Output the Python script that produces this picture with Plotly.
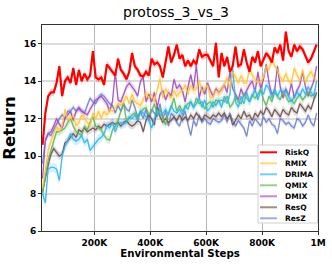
import plotly.graph_objects as go

steps = [15000 + 10000 * i for i in range(99)]

riskq = [10.6, 12.3, 13.2, 13.4, 13.4, 13.9, 14.8, 13.2, 14.0, 14.2, 13.9, 14.7, 13.8, 14.6, 14.0, 14.4, 14.1, 14.3, 15.6, 14.2,
         14.1, 14.2, 13.8, 14.9, 14.7, 14.5, 14.3, 15.2, 14.6, 14.4, 14.1, 14.5, 15.5, 14.8, 14.6, 14.3, 14.25, 14.5, 14.3, 15.2,
         14.9, 15.0, 14.8, 14.2, 15.0, 15.85, 15.0, 15.4, 15.95, 15.2, 15.4, 14.8, 15.1, 14.8, 15.1, 14.9, 15.7, 15.3, 15.4, 15.4,
         15.1, 14.8, 16.05, 14.2, 15.5, 14.8, 15.3, 14.5, 14.8, 15.85, 14.8, 14.9, 15.7, 15.0, 14.5, 15.3, 15.0, 15.6, 14.8, 15.2,
         15.5, 15.3, 15.0, 15.8, 15.5, 15.95, 15.1, 16.65, 15.6, 15.3, 15.95, 15.6, 15.85, 15.7, 15.3, 15.0, 15.2, 15.6, 15.95]

rmix = [8.3, 9.3, 10.3, 10.8, 11.2, 11.6, 11.3, 11.6, 12.5, 11.9, 12.0, 12.2, 11.6, 11.8, 12.2, 12.0, 11.8, 11.6, 12.3, 12.0,
        12.4, 12.0, 12.4, 12.2, 12.5, 12.4, 12.6, 12.8, 12.7, 12.9, 13.2, 12.8, 13.3, 12.9, 12.8, 12.7, 13.0, 13.4, 13.1, 13.3,
        12.9, 13.6, 14.15, 13.1, 13.6, 13.3, 13.1, 13.5, 13.2, 13.4, 13.5, 13.8, 13.3, 13.8, 13.5, 13.6, 14.05, 13.4, 13.6, 13.8,
        13.1, 13.2, 13.5, 13.4, 13.5, 13.8, 14.2, 13.6, 14.5, 14.2, 13.9, 14.3, 13.9, 13.9, 14.7, 14.3, 14.1, 13.9, 14.0, 14.2,
        14.8, 14.6, 15.3, 14.8, 14.6, 14.2, 14.0, 14.4, 14.0, 13.9, 14.7, 14.3, 14.0, 14.6, 13.9, 14.3, 14.5, 14.2, 14.1]

drima = [8.0, 7.5, 9.3, 9.4, 9.4, 9.3, 8.7, 10.0, 10.5, 10.9, 11.2, 10.9, 10.8, 10.9, 11.1, 10.7, 10.9, 10.3, 10.5, 10.7,
         10.9, 11.0, 11.2, 11.65, 11.5, 11.8, 11.3, 11.7, 11.8, 11.7, 11.8, 12.1, 12.0, 12.2, 11.9, 12.4, 12.3, 12.1, 11.9, 11.5,
         12.0, 12.5, 12.2, 12.3, 12.5, 12.2, 12.7, 12.4, 12.3, 12.5, 12.2, 12.7, 12.5, 12.9, 12.6, 12.8, 13.1, 12.6, 13.0, 12.4,
         12.6, 12.9, 12.7, 13.0, 12.6, 13.2, 12.8, 13.3, 14.7, 12.9, 12.6, 13.2, 12.8, 13.4, 12.9, 13.2, 13.6, 13.0, 13.5, 13.3,
         13.8, 13.6, 13.1, 13.6, 13.2, 13.5, 13.4, 13.5, 13.2, 12.9, 13.2, 13.4, 13.2, 13.6, 13.3, 13.7, 13.4, 13.2, 14.0]

qmix = [8.0, 9.0, 9.8, 10.3, 10.8, 11.3, 11.3, 11.4, 11.5, 11.8, 12.0, 11.6, 11.3, 11.2, 11.1, 11.6, 11.4, 11.8, 12.1, 11.6,
        11.5, 11.4, 11.1, 10.9, 10.85, 11.4, 11.6, 11.9, 12.4, 12.8, 11.9, 12.0, 12.2, 12.3, 12.0, 12.3, 12.5, 12.6, 12.2, 12.4,
        12.8, 12.2, 12.5, 12.1, 11.65, 12.3, 12.6, 13.1, 12.4, 12.7, 12.4, 12.6, 12.8, 12.9, 12.6, 13.1, 12.8, 12.9, 12.5, 12.8,
        12.9, 12.6, 13.0, 12.9, 13.0, 12.9, 13.2, 12.6, 12.8, 13.2, 12.9, 12.8, 13.3, 13.1, 12.9, 13.3, 13.1, 13.3, 13.6, 13.0,
        12.7, 13.2, 12.9, 13.4, 13.2, 13.0, 13.5, 13.2, 12.9, 13.0, 12.8, 13.1, 13.3, 13.0, 13.2, 13.4, 13.2, 13.3, 13.3]

dmix = [8.8, 10.8, 11.2, 11.3, 11.6, 12.0, 11.7, 11.5, 12.0, 12.2, 12.4, 11.9, 12.4, 12.6, 12.4, 12.3, 12.2, 12.5, 12.75, 13.0,
        13.1, 13.2, 13.0, 12.8, 12.4, 12.9, 14.5, 13.0, 12.9, 13.3, 13.7, 13.9, 13.7, 13.5, 13.2, 14.0, 14.2, 12.9, 13.3, 12.9,
        13.4, 12.6, 13.3, 13.5, 13.0, 13.4, 13.2, 14.1, 13.6, 13.8, 13.5, 12.9, 13.7, 14.35, 13.6, 14.9, 13.1, 13.7, 13.3, 13.9,
        13.5, 13.2, 13.6, 13.4, 13.55, 13.8, 13.4, 14.5, 13.6, 13.3, 13.0, 13.6, 13.2, 13.5, 13.8, 14.0, 13.4, 14.5, 13.6, 14.1,
        14.9, 13.9, 13.3, 13.5, 14.8, 13.7, 13.1, 13.6, 13.2, 13.9, 13.1, 13.5, 13.8, 14.5, 13.7, 13.2, 13.6, 14.0, 14.8]

resq = [8.1, 8.9, 9.5, 10.1, 10.4, 10.2, 10.0, 10.1, 10.7, 10.8, 11.0, 11.2, 11.0, 11.4, 11.3, 11.5, 11.3, 11.4, 11.5, 11.4,
        11.6, 11.5, 11.7, 11.6, 11.7, 11.8, 11.7, 11.8, 11.6, 11.8, 11.9, 11.7, 11.6, 11.7, 11.9, 11.8, 11.3, 11.9, 12.2, 12.0,
        11.65, 12.65, 12.1, 11.8, 12.0, 11.8, 11.9, 12.1, 11.9, 12.2, 11.9, 12.1, 11.9, 12.2, 12.0, 12.3, 12.1, 11.9, 12.2, 12.1,
        12.0, 12.2, 12.1, 12.3, 12.1, 12.3, 12.0, 12.2, 11.65, 11.9, 12.2, 12.0, 12.4, 12.1, 12.2, 11.9, 12.3, 12.1, 12.4, 12.2,
        12.6, 12.4, 12.1, 12.5, 12.3, 12.1, 12.5, 12.3, 12.2, 12.6, 12.4, 12.3, 12.8, 12.6, 12.4, 12.7, 12.5, 13.0, 13.4]

resz = [9.6, 10.9, 11.2, 11.1, 11.4, 11.7, 12.0, 12.2, 12.0, 12.4, 12.4, 12.6, 12.4, 12.5, 12.4, 12.3, 12.7, 13.1, 12.9, 12.8,
        13.1, 13.3, 13.2, 13.0, 12.8, 12.7, 12.3, 12.7, 12.4, 12.8, 12.5, 12.4, 13.0, 12.6, 12.1, 12.4, 12.0, 12.5, 11.9, 12.5,
        12.3, 12.1, 12.8, 12.0, 12.4, 11.6, 12.3, 12.1, 11.8, 11.6, 12.1, 12.4, 11.7, 11.1, 11.9, 11.6, 12.2, 11.8, 12.0, 11.8,
        11.7, 12.0, 11.9, 11.8, 11.9, 12.2, 11.8, 12.3, 11.9, 11.6, 11.9, 11.7, 11.5, 11.05, 11.9, 11.6, 12.0, 11.8, 11.6, 12.1,
        11.8, 12.0, 11.7, 11.6, 11.2, 12.0, 11.9, 11.7, 11.8, 11.6, 11.5, 12.0, 11.9, 11.6, 11.8, 12.2, 11.8, 11.6, 12.3]

names = ["RiskQ", "RMIX", "DRIMA", "QMIX", "DMIX", "ResQ", "ResZ"]
series = [riskq, rmix, drima, qmix, dmix, resq, resz]
spread = [0.2, 0.25, 0.25, 0.2, 0.2, 0.2, 0.15]
colors = ["#ff0000", "#ffc53a", "#2bb5f3", "#5cb85c", "#a24cbf", "#6e5050", "#6f80cf"]
fills = ["rgba(255,0,0,0.2)", "rgba(255,197,58,0.25)", "rgba(43,181,243,0.2)", "rgba(92,184,92,0.2)",
         "rgba(162,76,191,0.2)", "rgba(110,80,80,0.2)", "rgba(111,128,207,0.2)"]
widths = [2.2, 1.3, 1.3, 1.3, 1.3, 1.3, 1.3]

for n in series:
    assert len(n) == len(steps), len(n)

fig = go.Figure()
order = list(range(len(names)))[::-1]
for k in order:
    ys = series[k]
    s = spread[k]
    fig.add_trace(go.Scatter(x=steps, y=[v + s for v in ys], mode="lines", line=dict(width=0),
                             showlegend=False, hoverinfo="skip"))
    fig.add_trace(go.Scatter(x=steps, y=[v - s for v in ys], mode="lines", line=dict(width=0),
                             fill="tonexty", fillcolor=fills[k], showlegend=False, hoverinfo="skip"))
for k in order:
    fig.add_trace(go.Scatter(x=steps, y=series[k], mode="lines", name=names[k],
                             line=dict(color=colors[k], width=widths[k]),
                             opacity=1.0 if k == 0 else 0.9, showlegend=False))

# plot area in pixels (for the hand-built legend, which uses paper coordinates)
L, R, T, B = 42, 318, 25, 231
W, H = R - L, B - T
def px(x):
    return (x - L) / W
def py(y):
    return (B - y) / H

font = "DejaVu Sans, sans-serif"
shapes = [dict(type="rect", xref="paper", yref="paper", x0=px(258), x1=px(317.5), y0=py(223), y1=py(145),
               fillcolor="rgba(255,255,255,0.85)", line=dict(color="#d0d0d0", width=1), layer="above")]
annotations = []
for k, nm in enumerate(names):
    yy = py(152.3 + 11 * k)
    shapes.append(dict(type="line", xref="paper", yref="paper", x0=px(260), x1=px(277), y0=yy, y1=yy,
                       line=dict(color=colors[k], width=2), opacity=1.0 if k == 0 else 0.65, layer="above"))
    annotations.append(dict(xref="paper", yref="paper", x=px(282.5), y=yy, text=nm, showarrow=False,
                            xanchor="left", yanchor="middle",
                            font=dict(family=font, size=7.5, color="black", weight="bold")))

fig.update_layout(
    width=332, height=268,
    margin=dict(l=L, r=332 - R, t=T, b=268 - B),
    paper_bgcolor="white", plot_bgcolor="white",
    title=dict(text="protoss_3_vs_3", x=176 / 332, xanchor="center", y=1 - 12 / 268, yanchor="middle",
               font=dict(family=font, size=14, color="black")),
    showlegend=False,
    shapes=shapes, annotations=annotations,
    xaxis=dict(range=[13000, 1000000], tickvals=[200000, 400000, 600000, 800000, 1000000],
               ticktext=["200K", "400K", "600K", "800K", "1M"], automargin=False,
               showgrid=True, gridcolor="#b8b8b8", gridwidth=1,
               showline=True, linecolor="#333333", linewidth=1, mirror=True,
               ticks="outside", ticklen=3, tickcolor="#333333",
               tickfont=dict(family=font, size=9, color="black", weight="bold"),
               title=dict(text="Environmental Steps", standoff=2,
                          font=dict(family=font, size=10.2, color="black", weight="bold")),
               zeroline=False),
    yaxis=dict(range=[6, 17], tickvals=[6, 8, 10, 12, 14, 16], automargin=False,
               showgrid=True, gridcolor="#dcdcdc", gridwidth=2,
               showline=True, linecolor="#333333", linewidth=1, mirror=True,
               ticks="outside", ticklen=3, tickcolor="#333333",
               tickfont=dict(family=font, size=9, color="black", weight="bold"),
               title=dict(text="Return", standoff=4,
                          font=dict(family=font, size=16.5, color="black", weight="bold")),
               zeroline=False),
)
fig.write_html("out.html", config={"displayModeBar": False},
               post_script="document.body.style.margin='0';document.body.style.padding='0';")
